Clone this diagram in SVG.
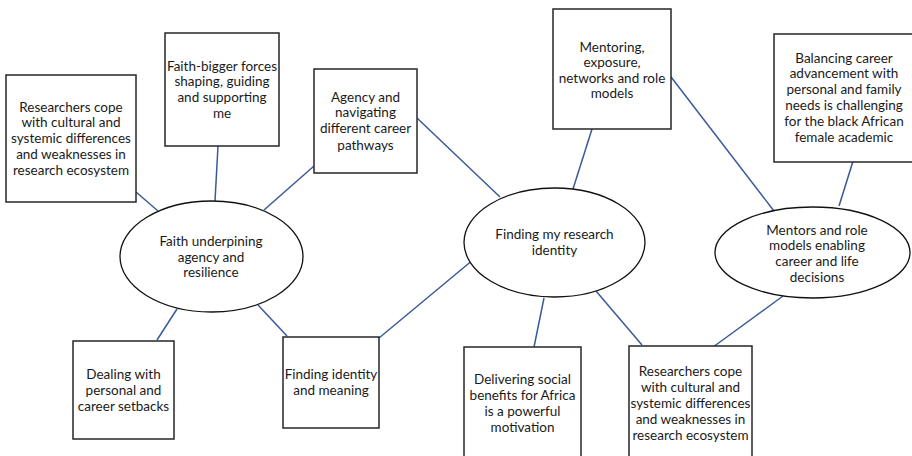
<svg xmlns="http://www.w3.org/2000/svg" width="912" height="456" viewBox="0 0 912 456">
  <style>
    .box { fill: #ffffff; stroke: #262626; stroke-width: 1.5; }
    .oval { fill: #ffffff; stroke: #111111; stroke-width: 1.3; }
    .link { stroke: #3a5a98; stroke-width: 1.5; fill: none; }
    text { font-family: Lato, "Liberation Sans", sans-serif; font-size: 13.5px; fill: #1a1a1a; text-anchor: middle; }
  </style>
  <rect width="912" height="456" fill="#ffffff"/>

  <!-- connectors -->
  <g id="connectors">
    <line class="link" x1="136" y1="192" x2="158" y2="211"/>
    <line class="link" x1="218" y1="146" x2="215" y2="201"/>
    <line class="link" x1="314" y1="166" x2="264" y2="210"/>
    <line class="link" x1="417" y1="118" x2="500" y2="197"/>
    <line class="link" x1="177" y1="309" x2="157" y2="340"/>
    <line class="link" x1="258" y1="305" x2="287" y2="336"/>
    <line class="link" x1="379" y1="338" x2="474" y2="259"/>
    <line class="link" x1="592" y1="129" x2="573" y2="189"/>
    <line class="link" x1="668" y1="73" x2="774" y2="211"/>
    <line class="link" x1="854" y1="158" x2="839" y2="206"/>
    <line class="link" x1="544" y1="298" x2="534" y2="347"/>
    <line class="link" x1="596" y1="291" x2="642" y2="345"/>
    <line class="link" x1="709" y1="350" x2="783" y2="296"/>
  </g>

  <g id="coping-left">
    <rect class="box" x="6" y="75" width="130" height="127"/>
    <text x="71" y="112">Researchers cope</text>
    <text x="71" y="127">with cultural and</text>
    <text x="71" y="143">systemic differences</text>
    <text x="71" y="159">and weaknesses in</text>
    <text x="71" y="175">research ecosystem</text>
  </g>

  <g id="faith-forces">
    <rect class="box" x="165" y="33" width="114" height="113"/>
    <text x="222" y="71">Faith-bigger forces</text>
    <text x="222" y="86">shaping, guiding</text>
    <text x="222" y="102">and supporting</text>
    <text x="222" y="118">me</text>
  </g>

  <g id="agency">
    <rect class="box" x="314" y="69" width="103" height="104"/>
    <text x="365.5" y="102">Agency and</text>
    <text x="365.5" y="117">navigating</text>
    <text x="365.5" y="133">different career</text>
    <text x="365.5" y="150">pathways</text>
  </g>

  <g id="faith-core">
    <ellipse class="oval" cx="211.5" cy="256.5" rx="91.5" ry="55.5"/>
    <text x="211" y="246">Faith underpining</text>
    <text x="211" y="262">agency and</text>
    <text x="211" y="277">resilience</text>
  </g>

  <g id="setbacks">
    <rect class="box" x="73" y="341" width="101" height="98"/>
    <text x="123.5" y="379">Dealing with</text>
    <text x="123.5" y="395">personal and</text>
    <text x="123.5" y="411">career setbacks</text>
  </g>

  <g id="identity-meaning">
    <rect class="box" x="283" y="337" width="96" height="91"/>
    <text x="331" y="379">Finding identity</text>
    <text x="331" y="395">and meaning</text>
  </g>

  <g id="research-identity">
    <ellipse class="oval" cx="554.5" cy="242.5" rx="90.5" ry="54.5"/>
    <text x="554.5" y="239">Finding my research</text>
    <text x="554.5" y="255">identity</text>
  </g>

  <g id="mentoring">
    <rect class="box" x="553" y="9" width="118" height="120"/>
    <text x="612" y="52">Mentoring,</text>
    <text x="612" y="67">exposure,</text>
    <text x="612" y="83">networks and role</text>
    <text x="612" y="98">models</text>
  </g>

  <g id="balancing">
    <rect class="box" x="774" y="34" width="140" height="128"/>
    <text x="844" y="63">Balancing career</text>
    <text x="844" y="78">advancement with</text>
    <text x="844" y="94">personal and family</text>
    <text x="844" y="110">needs is challenging</text>
    <text x="844" y="126">for the black African</text>
    <text x="844" y="142">female academic</text>
  </g>

  <g id="mentors-models">
    <ellipse class="oval" cx="812.5" cy="252.5" rx="97.5" ry="45.5"/>
    <text x="817" y="235">Mentors and role</text>
    <text x="817" y="250">models enabling</text>
    <text x="817" y="266">career and life</text>
    <text x="817" y="282">decisions</text>
  </g>

  <g id="social-benefits">
    <rect class="box" x="464" y="347" width="117" height="115"/>
    <text x="522.5" y="384">Delivering social</text>
    <text x="522.5" y="400">benefits for Africa</text>
    <text x="522.5" y="416">is a powerful</text>
    <text x="522.5" y="432">motivation</text>
  </g>

  <g id="coping-right">
    <rect class="box" x="629" y="346" width="123" height="116"/>
    <text x="690.5" y="376">Researchers cope</text>
    <text x="690.5" y="392">with cultural and</text>
    <text x="690.5" y="408">systemic differences</text>
    <text x="690.5" y="424">and weaknesses in</text>
    <text x="690.5" y="440">research ecosystem</text>
  </g>
</svg>
